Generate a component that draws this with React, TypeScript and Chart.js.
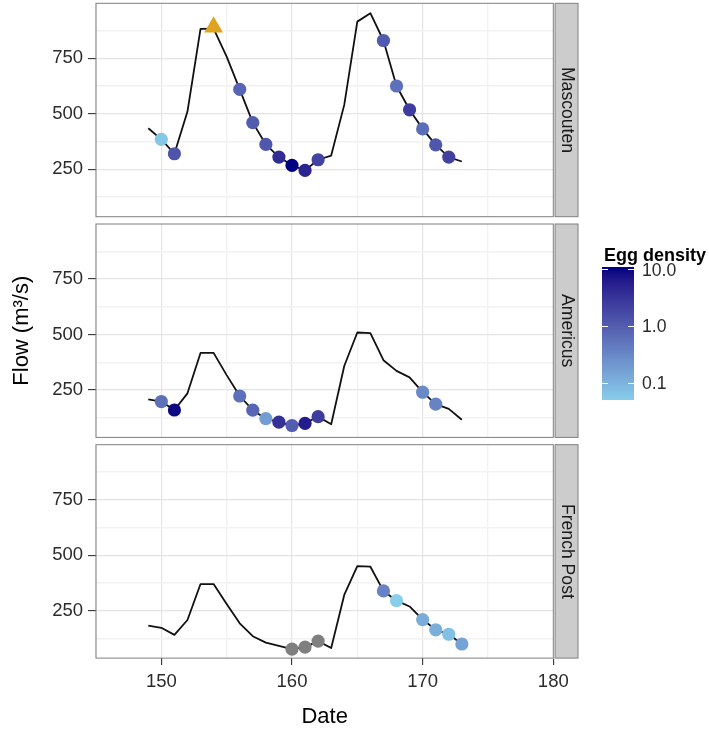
import React, { useEffect, useRef } from "react";
import { Chart, registerables } from "chart.js";

Chart.register(...registerables);

// ---------------- data ----------------
const dates = [149, 150, 151, 152, 153, 154, 155, 156, 157, 158, 159, 160, 161, 162, 163, 164, 165, 166, 167, 168, 169, 170, 171, 172, 173];

const mascoutenFlow = [435, 385, 320, 510, 882, 883, 757, 610, 460, 362, 305, 268, 245, 293, 312, 540, 915, 953, 830, 625, 518, 432, 360, 305, 285];
const americusFlow = [208, 198, 160, 235, 417, 417, 317, 223, 159, 121, 105, 90, 100, 130, 96, 358, 509, 506, 384, 336, 307, 240, 186, 165, 116];
const frenchPostFlow = [183, 173, 141, 208, 370, 370, 280, 193, 135, 106, 92, 77, 86, 113, 82, 321, 451, 448, 339, 295, 269, 210, 164, 144, 100];

const mascoutenEggDates = [150, 151, 156, 157, 158, 159, 160, 161, 162, 167, 168, 169, 170, 171, 172];
const mascoutenEggDensity = [0.06, 1.3, 0.8, 1.0, 1.2, 4, 11, 5, 2, 1.1, 0.6, 2.5, 0.65, 1.2, 2.2];
const americusEggDates = [150, 151, 156, 157, 158, 159, 160, 161, 162, 170, 171];
const americusEggDensity = [0.6, 9.5, 0.6, 0.8, 0.18, 3.5, 1.0, 6, 2.5, 0.3, 0.35];
const frenchPostEggDates = [160, 161, 162, 167, 168, 170, 171, 172, 173];
const frenchPostEggDensity: (number | null)[] = [null, null, null, 0.35, 0.05, 0.12, 0.11, 0.07, 0.15];

const mascoutenSpawnDates = [154];
const mascoutenSpawnFlow = [890];

const siteNames = ["Mascouten", "Americus", "French Post"];

const xTicks = [145, 150, 155, 160, 165, 170, 175, 180];
const xLabelTicks = [150, 160, 170, 180];
const yTicks = [125, 250, 375, 500, 625, 750, 875];
const yLabelTicks = [250, 500, 750];
const legendTicks = [10, 1, 0.1];
const legendLabels = ["10.0", "1.0", "0.1"];

// ---------------- colour scale (Lab interpolation, log10) ----------------
const LOW = "#87CEEB";
const HIGH = "#000080";
const NA_COLOR = "#7f7f7f";

function hexToRgb(h: string) {
  const n = parseInt(h.slice(1), 16);
  return [(n >> 16) & 255, (n >> 8) & 255, n & 255];
}
function toLin(c: number) {
  c /= 255;
  return c <= 0.04045 ? c / 12.92 : Math.pow((c + 0.055) / 1.055, 2.4);
}
function fromLin(c: number) {
  const v = c <= 0.0031308 ? 12.92 * c : 1.055 * Math.pow(Math.max(c, 0), 1 / 2.4) - 0.055;
  return Math.round(Math.max(0, Math.min(1, v)) * 255);
}
function rgbToLab(rgb: number[]) {
  const R = toLin(rgb[0]), G = toLin(rgb[1]), B = toLin(rgb[2]);
  const X = (0.4124 * R + 0.3576 * G + 0.1805 * B) / 0.95047;
  const Y = 0.2126 * R + 0.7152 * G + 0.0722 * B;
  const Z = (0.0193 * R + 0.1192 * G + 0.9505 * B) / 1.08883;
  const f = (t: number) => (t > 0.008856 ? Math.cbrt(t) : 7.787 * t + 16 / 116);
  return [116 * f(Y) - 16, 500 * (f(X) - f(Y)), 200 * (f(Y) - f(Z))];
}
function labToRgb(lab: number[]) {
  const fy = (lab[0] + 16) / 116, fx = fy + lab[1] / 500, fz = fy - lab[2] / 200;
  const inv = (t: number) => (t * t * t > 0.008856 ? t * t * t : (t - 16 / 116) / 7.787);
  const X = inv(fx) * 0.95047, Y = inv(fy), Z = inv(fz) * 1.08883;
  const R = 3.2406 * X - 1.5372 * Y - 0.4986 * Z;
  const G = -0.9689 * X + 1.8758 * Y + 0.0415 * Z;
  const B = 0.0557 * X - 0.204 * Y + 1.057 * Z;
  return [fromLin(R), fromLin(G), fromLin(B)];
}
const lowLab = rgbToLab(hexToRgb(LOW));
const highLab = rgbToLab(hexToRgb(HIGH));
const allDens = [...mascoutenEggDensity, ...americusEggDensity, ...frenchPostEggDensity].filter(
  (v): v is number => v !== null
);
const LMIN = Math.log10(Math.min(...allDens));
const LMAX = Math.log10(Math.max(...allDens));
function colorAtT(t: number) {
  const tt = Math.max(0, Math.min(1, t));
  const lab = lowLab.map((v, i) => v + (highLab[i] - v) * tt);
  const c = labToRgb(lab);
  return `rgb(${c[0]},${c[1]},${c[2]})`;
}
function densityColor(d: number | null) {
  if (d === null) return NA_COLOR;
  return colorAtT((Math.log10(d) - LMIN) / (LMAX - LMIN));
}

// ---------------- layout ----------------
const FONT = "'Liberation Sans', Arial, Helvetica, sans-serif";
Chart.defaults.font.family = FONT;

const PANEL_LEFT = 96;
const PANEL_RIGHT = 553.3;
const STRIP_W = 24.7;
const PANEL_H = 213.4;
const panelTops = [3.3, 224, 444.7];
const canvasTops = [0, 220, 441];
const canvasHeights = [220, 221, 290];
const X_AXIS_H = 731 - (444.7 + PANEL_H);

const panels = [
  { name: siteNames[0], flow: mascoutenFlow, eggDates: mascoutenEggDates, eggDens: mascoutenEggDensity as (number | null)[], spawnDates: mascoutenSpawnDates, spawnFlow: mascoutenSpawnFlow },
  { name: siteNames[1], flow: americusFlow, eggDates: americusEggDates, eggDens: americusEggDensity as (number | null)[], spawnDates: [] as number[], spawnFlow: [] as number[] },
  { name: siteNames[2], flow: frenchPostFlow, eggDates: frenchPostEggDates, eggDens: frenchPostEggDensity, spawnDates: [] as number[], spawnFlow: [] as number[] },
];

const panelFrame = {
  id: "panelFrame",
  afterDraw(chart: any) {
    const { ctx, chartArea } = chart;
    const { left, right, top, bottom } = chartArea;
    const strip = chart.scales.strip;
    ctx.save();
    ctx.fillStyle = "#ffffff";
    ctx.fillRect(right, top - 1, 1.8, bottom - top + 2);
    ctx.strokeStyle = "#7f7f7f";
    ctx.lineWidth = 1;
    ctx.strokeRect(left, top, right - left, bottom - top);
    ctx.strokeRect(right + 1.8, top, strip.right - right - 1.8, bottom - top);
    ctx.restore();
  },
};

const noPad = (s: any) => {
  s.paddingTop = 0;
  s.paddingBottom = 0;
  s.paddingLeft = 0;
  s.paddingRight = 0;
};

function makeConfig(i: number) {
  const p = panels[i];
  const isBottom = i === 2;
  const flowAt = (d: number) => p.flow[dates.indexOf(d)];
  const padTop = panelTops[i] - canvasTops[i];
  const padBottom = isBottom ? 0 : canvasTops[i] + canvasHeights[i] - (panelTops[i] + PANEL_H);
  const datasets: any[] = [
    {
      type: "line",
      data: dates.map((d, k) => ({ x: d, y: p.flow[k] })),
      borderColor: "#111111",
      borderWidth: 1.8,
      borderJoinStyle: "round",
      pointRadius: 0,
      tension: 0,
      order: 3,
    },
    {
      type: "scatter",
      data: p.eggDates.map((d) => ({ x: d, y: flowAt(d) })),
      pointRadius: 6.6,
      pointBorderWidth: 0,
      pointBackgroundColor: p.eggDens.map((v) => densityColor(v)),
      order: 2,
    },
  ];
  if (p.spawnDates.length) {
    datasets.push({
      type: "scatter",
      data: p.spawnDates.map((d, k) => ({ x: d, y: p.spawnFlow[k] })),
      pointStyle: "triangle",
      pointRadius: 10.8,
      pointBorderWidth: 0,
      pointBackgroundColor: "#DFA322",
      order: 1,
    });
  }
  return {
    type: "scatter",
    data: { datasets },
    plugins: [panelFrame],
    options: {
      responsive: false,
      animation: false,
      devicePixelRatio: 1,
      layout: {
        autoPadding: false,
        padding: { left: 0, right: 709 - (PANEL_RIGHT + STRIP_W), top: padTop, bottom: padBottom },
      },
      plugins: { legend: { display: false }, tooltip: { enabled: false } },
      scales: {
        x: {
          type: "linear",
          position: "bottom",
          min: 145,
          max: 180,
          afterBuildTicks: (s: any) => {
            s.ticks = xTicks.map((v) => ({ value: v }));
          },
          afterFit: (s: any) => {
            s.height = isBottom ? X_AXIS_H : 0;
            noPad(s);
          },
          border: { display: false },
          grid: {
            color: (c: any) => (c.tick && xLabelTicks.includes(c.tick.value) ? "#e4e4e4" : "#f2f2f2"),
            lineWidth: (c: any) => (c.tick && xLabelTicks.includes(c.tick.value) ? 1.2 : 1.4),
            drawTicks: isBottom,
            tickLength: 7,
            tickWidth: 1.1,
            tickColor: (c: any) => (c.tick && xLabelTicks.includes(c.tick.value) ? "#333333" : "rgba(0,0,0,0)"),
          },
          ticks: {
            display: isBottom,
            autoSkip: false,
            maxRotation: 0,
            padding: 6,
            color: "#2b2b2b",
            font: { size: 18.5, family: FONT },
            callback: (v: any) => (xLabelTicks.includes(v) ? String(v) : ""),
          },
          title: {
            display: isBottom,
            text: "Date",
            color: "#000000",
            font: { size: 22, family: FONT },
            padding: { top: 0, bottom: 1.3 },
          },
        },
        y: {
          type: "linear",
          position: "left",
          min: 36.5,
          max: 997.5,
          afterBuildTicks: (s: any) => {
            s.ticks = yTicks.map((v) => ({ value: v }));
          },
          afterFit: (s: any) => {
            s.width = PANEL_LEFT;
            noPad(s);
          },
          border: { display: false },
          grid: {
            color: (c: any) => (c.tick && yLabelTicks.includes(c.tick.value) ? "#e4e4e4" : "#f2f2f2"),
            lineWidth: (c: any) => (c.tick && yLabelTicks.includes(c.tick.value) ? 1.2 : 1.4),
            drawTicks: true,
            tickLength: 8,
            tickWidth: 1.1,
            tickColor: (c: any) => (c.tick && yLabelTicks.includes(c.tick.value) ? "#333333" : "rgba(0,0,0,0)"),
          },
          ticks: {
            autoSkip: false,
            padding: 5,
            color: "#2b2b2b",
            font: { size: 18.5, family: FONT },
            callback: (v: any) => (yLabelTicks.includes(v) ? String(v) : ""),
          },
          title: {
            display: i === 1,
            text: "Flow (m³/s)",
            color: "#000000",
            font: { size: 22, family: FONT },
            padding: { top: 8.8, bottom: 0 },
          },
        },
        strip: {
          type: "linear",
          axis: "y",
          position: "right",
          display: true,
          backgroundColor: "#cccccc",
          afterFit: (s: any) => {
            s.width = STRIP_W;
            noPad(s);
          },
          border: { display: false },
          grid: { display: false, drawTicks: false },
          ticks: { display: false },
          title: {
            display: true,
            text: p.name,
            color: "#1a1a1a",
            font: { size: 17.6, family: FONT },
            padding: { top: 1, bottom: 0 },
          },
        },
      },
    },
  };
}

function Legend() {
  const barTop = 267.3;
  const barH = 133;
  const barLeft = 602;
  const barW = 32;
  const stops: string[] = [];
  for (let k = 0; k <= 20; k++) {
    const t = 1 - k / 20;
    stops.push(`${colorAtT(t)} ${(k / 20) * 100}%`);
  }
  const yOf = (v: number) => barTop + ((LMAX - Math.log10(v)) / (LMAX - LMIN)) * barH;
  return (
    <>
      <div
        style={{
          position: "absolute",
          left: 604,
          top: 255 - 12,
          height: 24,
          lineHeight: "24px",
          fontFamily: FONT,
          fontWeight: "bold",
          fontSize: 18,
          color: "#000",
          whiteSpace: "nowrap",
        }}
      >
        Egg density
      </div>
      <div
        style={{
          position: "absolute",
          left: barLeft,
          top: barTop,
          width: barW,
          height: barH,
          background: `linear-gradient(to bottom, ${stops.join(", ")})`,
        }}
      />
      {legendTicks.map((v, k) => (
        <React.Fragment key={k}>
          <div style={{ position: "absolute", left: barLeft, top: yOf(v) - 0.6, width: barW / 5, height: 1.2, background: "#fff" }} />
          <div style={{ position: "absolute", left: barLeft + barW - barW / 5, top: yOf(v) - 0.6, width: barW / 5, height: 1.2, background: "#fff" }} />
          <div
            style={{
              position: "absolute",
              left: 642,
              top: yOf(v) - 11,
              height: 22,
              lineHeight: "22px",
              fontFamily: FONT,
              fontSize: 17.6,
              color: "#2b2b2b",
              whiteSpace: "nowrap",
            }}
          >
            {legendLabels[k]}
          </div>
        </React.Fragment>
      ))}
    </>
  );
}

export default function App() {
  const refs = [useRef<HTMLCanvasElement>(null), useRef<HTMLCanvasElement>(null), useRef<HTMLCanvasElement>(null)];
  useEffect(() => {
    const charts = refs.map((r, i) => new Chart(r.current as HTMLCanvasElement, makeConfig(i) as any));
    return () => charts.forEach((c) => c.destroy());
  }, []);
  return (
    <div style={{ position: "absolute", left: 0, top: 0, width: 709, height: 731, background: "#fff", overflow: "hidden" }}>
      {refs.map((r, i) => (
        <canvas
          key={i}
          ref={r}
          width={709}
          height={canvasHeights[i]}
          style={{ position: "absolute", left: 0, top: canvasTops[i], width: 709, height: canvasHeights[i] }}
        />
      ))}
      <Legend />
    </div>
  );
}
